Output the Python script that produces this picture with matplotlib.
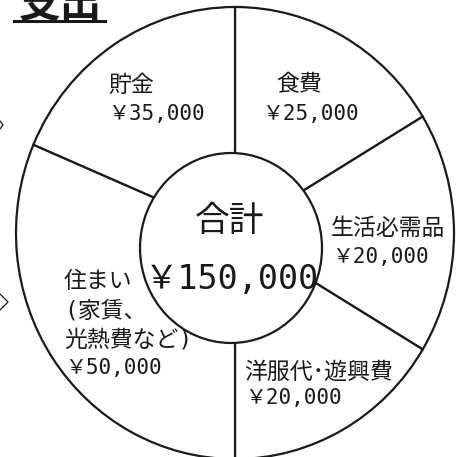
import matplotlib.pyplot as plt
from matplotlib.patches import Ellipse
from matplotlib.lines import Line2D

plt.rcParams['font.family'] = ['DejaVu Sans Mono', 'Noto Sans CJK JP', 'DejaVu Sans']

# data (clockwise from the top)
categories = ["食費", "生活必需品", "洋服代･遊興費", "住まい\n(家賃、\n光熱費など)", "貯金"]
amounts = ["￥25,000", "￥20,000", "￥20,000", "￥50,000", "￥35,000"]
drawn_deg = [59, 62, 59, 113, 67]   # slice sizes as drawn (not to scale)
total_label = "合計"
total_amount = "￥150,000"
title = "支出"

W, H = 458, 457
fig = plt.figure(figsize=(W / 100, H / 100), dpi=100)
ax = fig.add_axes([0, 0, 1, 1])

ink = "#1a1a1a"
ax.pie(drawn_deg, startangle=90, counterclock=False, radius=1,
       wedgeprops=dict(facecolor="white", edgecolor=ink, linewidth=1.6))

# outer shape is slightly taller than wide; centre at (235,233) px
cx, cy, rx, ry = 235, 233, 219, 226
ax.set_aspect("auto")
ax.set_xlim(-cx / rx, (W - cx) / rx)
ax.set_ylim(-(H - cy) / ry, cy / ry)

# inner circle (a bit off centre, like the original drawing)
ax.add_patch(Ellipse(((231 - cx) / rx, (cy - 248) / ry), 2 * 91 / rx, 2 * 95 / ry,
                     facecolor="white", edgecolor=ink, linewidth=1.6, zorder=5))


def px(x, y):
    return x / W, 1 - y / H


def label(x, y, s, size=16.5, **kw):
    fig.text(*px(x, y), s, fontsize=size, color=ink, va="center", **kw)


label(108, 85, categories[4]); label(108, 114, amounts[4], 15)
label(276, 85, categories[0]); label(262, 114, amounts[0], 15)
label(331, 228, categories[1]); label(332, 257, amounts[1], 15)
label(244, 372, categories[2]); label(245, 398, amounts[2], 15)
for i, line in enumerate(categories[3].split("\n")):
    label(64, 282 + i * 29, line)
label(65, 368, amounts[3], 15)

fig.text(*px(230, 221), total_label, fontsize=25, color=ink, ha="center", va="center", zorder=10)
fig.text(*px(232, 279), total_amount, fontsize=24, color=ink, ha="center", va="center", zorder=10)

# title, cut off at the top edge
fig.text(*px(60, 17), title, fontsize=30, fontweight="bold", color=ink,
         ha="center", va="baseline", family=["Noto Sans CJK JP"])
fig.add_artist(Line2D([14 / W, 105 / W], [1 - 21 / H, 1 - 21 / H], color=ink,
                      lw=2.2, transform=fig.transFigure))

# bits of arrows at the left edge
fig.add_artist(Line2D([0, 3 / W, 0], [1 - 121 / H, 1 - 125 / H, 1 - 129 / H],
                      color=ink, lw=0.9, transform=fig.transFigure))
fig.add_artist(Line2D([0, 8 / W, 0], [1 - 294 / H, 1 - 302 / H, 1 - 310 / H],
                      color=ink, lw=0.9, transform=fig.transFigure))

fig.savefig("out.png", dpi=100)
